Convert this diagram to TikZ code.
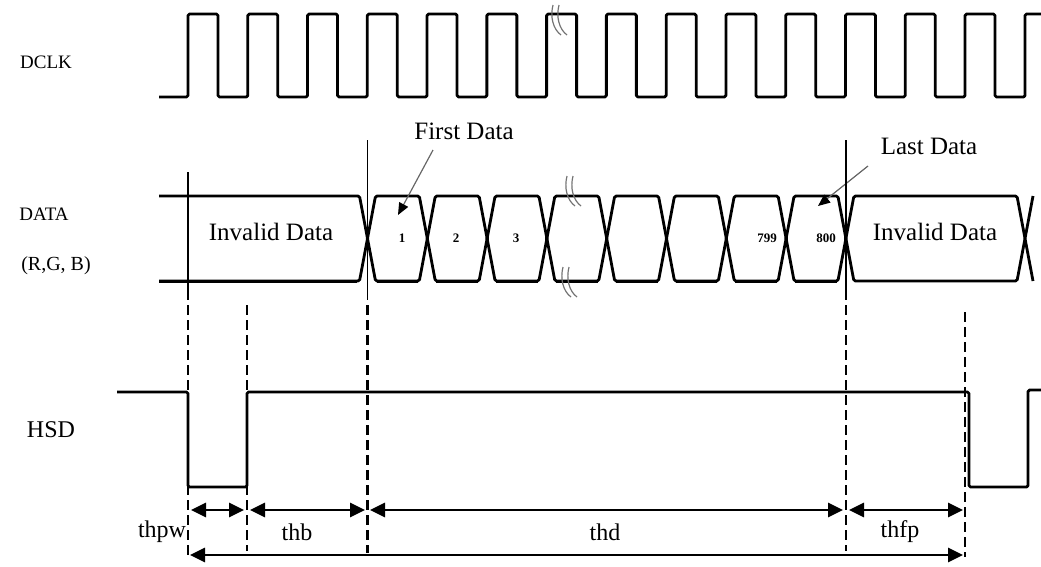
\documentclass[tikz,border=0pt]{standalone}
\usepackage{fontspec}
\setmainfont{Liberation Serif}
\usetikzlibrary{arrows.meta}
\begin{document}
\begin{tikzpicture}[x=1pt,y=-1pt,
  sig/.style={line width=2.8pt, line join=round, rounded corners=1.5pt},
  vthin/.style={line width=1.4pt},
  guide/.style={line width=2.8pt, dash pattern=on 10pt off 5pt},
  dim/.style={line width=2.7pt, {Triangle[length=15pt,width=14pt]}-{Triangle[length=15pt,width=14pt]}},
  pointer/.style={line width=1.2pt, draw=black!60, -{Triangle[length=12pt,width=10pt,color=black,fill=black]}},
  brk/.style={line width=1.2pt, draw=black!55},
  lbl/.style={font=\fontsize{24}{28}\selectfont, inner sep=0pt},
  txt/.style={font=\fontsize{25}{29}\selectfont, inner sep=0pt},
  sml/.style={font=\fontsize{19}{22}\selectfont, inner sep=0pt},
  num/.style={font=\bfseries\fontsize{13}{15}\selectfont, inner sep=0pt},
  brkpic/.pic={
    \draw[brk] (0,0) .. controls (-3,12) and (0,24) .. (8,30);
    \draw[brk] (6,0) .. controls (3,12) and (6,24) .. (14,30);
  }
]
\useasboundingbox (0,0) rectangle (1041,566);

% ---------- labels ----------
\node[sml] (dclk) at (46,62) {DCLK};
\node[sml] (data) at (44,214) {DATA};
\node[font=\fontsize{20}{24}\selectfont, inner sep=0pt] (rgb) at (56,266) {(R,G, B)};
\node[lbl] (hsd) at (51,430) {HSD};

% ---------- DCLK ----------
\draw[sig] (159,97)
  \foreach \k in {0,...,13} {
    -- ({188+59.77*\k},97) -- ({188+59.77*\k},14)
    -- ({218+59.77*\k},14) -- ({218+59.77*\k},97)
  } -- (1025,97) -- (1025,14) -- (1041,14);
\pic at (553,5) {brkpic};

% ---------- DATA ----------
\def\top{196}\def\bot{281}\def\mid{238.5}\def\h{8}
\draw[sig] (159,\top) -- (359.5,\top) -- (367.5,\mid) -- (359.5,\bot) -- (159,\bot);
\draw[line width=1.4pt] (159,\bot+1.3) -- (357,\bot+1.3);
\foreach \k in {0,...,7} {
  \pgfmathsetmacro\xl{367.5+59.8*\k}
  \pgfmathsetmacro\xr{367.5+59.8*(\k+1)}
  \draw[sig] (\xl,\mid) -- (\xl+\h,\top) -- (\xr-\h,\top) -- (\xr,\mid)
             -- (\xr-\h,\bot) -- (\xl+\h,\bot) -- cycle;
  \draw[line width=1.4pt] (\xl+\h+1,\bot+1.3) -- (\xr-\h-1,\bot+1.3);
}
\draw[sig] (845.9,\mid) -- (853.9,\top) -- (1017,\top) -- (1025,\mid)
           -- (1017,\bot) -- (853.9,\bot) -- cycle;
\draw[sig] (1033,\top) -- (1025,\mid) -- (1033,\bot);
\pic at (567,176) {brkpic};
\pic at (563,267) {brkpic};

\node[txt] (inv1) at (271,232) {Invalid Data};
\node[txt] (inv2) at (935,232) {Invalid Data};
\node[num] (d1) at (402,238) {1};
\node[num] (d2) at (456,238) {2};
\node[num] (d3) at (516,238) {3};
\node[num] (d799) at (767,238) {799};
\node[num] (d800) at (826,238) {800};

\node[txt] (first) at (464,131) {First Data};
\node[txt] (last) at (929,146) {Last Data};
\coordinate (ftail) at (433,150);
\coordinate (ftip) at (398,215);
\coordinate (ltail) at (868,166);
\coordinate (ltip) at (818,206);
\draw[pointer] (ftail) -- (ftip);
\draw[pointer] (ltail) -- (ltip);

% thin verticals
\coordinate (v1t) at (188,172); \coordinate (v1b) at (188,300);
\coordinate (v2t) at (367.5,140); \coordinate (v2b) at (367.5,300);
\coordinate (v3t) at (846,140); \coordinate (v3b) at (846,300);
\draw[vthin] (v1t) -- (v1b);
\draw[vthin] (v2t) -- (v2b);
\draw[vthin] (v3t) -- (v3b);

% ---------- dashed guides ----------
\coordinate (g1t) at (188,305);   \coordinate (g1b) at (188,556);
\coordinate (g2t) at (247,305);   \coordinate (g2b) at (247,551);
\coordinate (g3t) at (367.5,305); \coordinate (g3b) at (367.5,553);
\coordinate (g4t) at (846,305);   \coordinate (g4b) at (846,551);
\coordinate (g5t) at (965,312);   \coordinate (g5b) at (965,557);
\foreach \g in {g1,g2,g3,g4,g5} \draw[guide] (\g t) -- (\g b);

% ---------- HSD ----------
\draw[sig] (117,392) -- (188,392) -- (188,487) -- (247,487) -- (247,392)
  -- (969,392) -- (969,487) -- (1028,487) -- (1028,390) -- (1041,390);

% ---------- dimensions ----------
\coordinate (a1) at (191,510); \coordinate (a2) at (244,510);
\coordinate (b1) at (250,510); \coordinate (b2) at (365,510);
\coordinate (c1) at (370,510); \coordinate (c2) at (843,510);
\coordinate (e1) at (849,510); \coordinate (e2) at (963,510);
\coordinate (t1) at (190,555); \coordinate (t2) at (963,555);
\draw[dim] (a1) -- (a2);
\draw[dim] (b1) -- (b2);
\draw[dim] (c1) -- (c2);
\draw[dim] (e1) -- (e2);
\draw[dim] (t1) -- (t2);

\node[lbl] (thpw) at (162,532) {thpw};
\node[lbl] (thb) at (297,532) {thb};
\node[lbl] (thd) at (605,532) {thd};
\node[lbl] (thfp) at (900,532) {thfp};
\end{tikzpicture}
\end{document}
